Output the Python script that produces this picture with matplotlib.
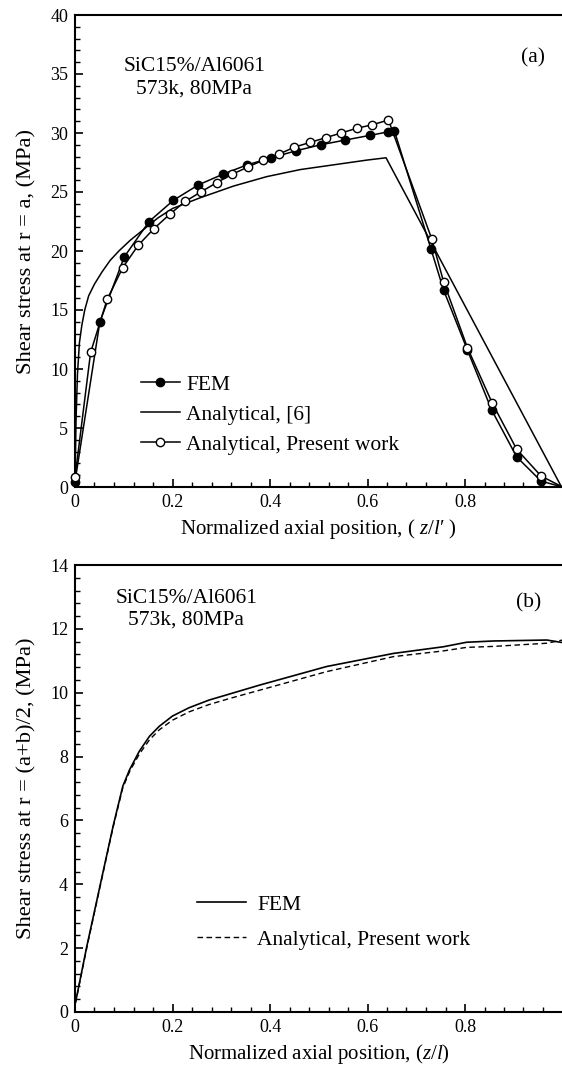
import matplotlib
matplotlib.use("Agg")
import matplotlib.pyplot as plt
from matplotlib.ticker import MultipleLocator

plt.rcParams['font.family'] = ['Liberation Serif', 'DejaVu Serif']
plt.rcParams['mathtext.fontset'] = 'custom'
plt.rcParams['mathtext.rm'] = 'Liberation Serif'
plt.rcParams['mathtext.it'] = 'Liberation Serif:italic'

# ---------------- Panel (a) data ----------------
fem_a_x = [0.0, 0.051, 0.101, 0.152, 0.202, 0.253, 0.303, 0.353, 0.403, 0.454, 0.504,
           0.554, 0.605, 0.643, 0.655, 0.730, 0.756, 0.805, 0.855, 0.906, 0.956, 1.0]
fem_a_y = [0.45, 14.0, 19.5, 22.5, 24.3, 25.6, 26.5, 27.3, 27.9, 28.5, 29.0,
           29.4, 29.8, 30.1, 30.2, 20.2, 16.7, 11.6, 6.5, 2.55, 0.5, 0.0]

ref6_x = [0.0, 0.002, 0.005, 0.009, 0.014, 0.020, 0.028, 0.040, 0.055, 0.072, 0.090,
          0.113, 0.140, 0.170, 0.200, 0.256, 0.325, 0.393, 0.462, 0.530, 0.598,
          0.638, 0.998]
ref6_y = [0.0, 5.5, 9.5, 12.2, 13.7, 15.0, 16.2, 17.2, 18.2, 19.2, 20.0,
          20.9, 21.8, 22.8, 23.6, 24.5, 25.5, 26.3, 26.9, 27.3, 27.7,
          27.9, 0.0]

pw_a_x = [0.0, 0.032, 0.066, 0.098, 0.130, 0.162, 0.194, 0.226, 0.258, 0.291, 0.322,
          0.354, 0.386, 0.418, 0.450, 0.482, 0.514, 0.546, 0.578, 0.610, 0.643,
          0.732, 0.756, 0.805, 0.856, 0.906, 0.956, 1.0]
pw_a_y = [0.82, 11.4, 15.9, 18.6, 20.5, 21.9, 23.1, 24.2, 25.0, 25.8, 26.5,
          27.1, 27.7, 28.2, 28.8, 29.2, 29.6, 30.0, 30.4, 30.7, 31.1,
          21.0, 17.4, 11.8, 7.1, 3.2, 0.93, 0.0]

# ---------------- Panel (b) data ----------------
b_x = [0.0, 0.002, 0.024, 0.051, 0.078, 0.098, 0.112, 0.132, 0.153, 0.173, 0.200,
       0.234, 0.275, 0.315, 0.379, 0.516, 0.653, 0.756, 0.803, 0.858, 0.968, 1.0]
fem_b_y = [0.25, 0.37, 2.04, 3.93, 5.81, 7.07, 7.59, 8.17, 8.64, 8.95, 9.27,
           9.53, 9.77, 9.95, 10.24, 10.82, 11.23, 11.44, 11.58, 11.62, 11.65, 11.57]
pw_b_y = [0.25, 0.35, 2.0, 3.9, 5.78, 7.02, 7.53, 8.08, 8.53, 8.84, 9.14,
          9.40, 9.63, 9.81, 10.08, 10.66, 11.13, 11.31, 11.42, 11.45, 11.55, 11.65]

x_ticks = [0, 0.2, 0.4, 0.6, 0.8]
x_ticklabels = ['0', '0.2', '0.4', '0.6', '0.8']

fig = plt.figure(figsize=(5.62, 10.68), dpi=100)
W, H = 562.0, 1068.0
ax_a = fig.add_axes([75 / W, 1 - 487 / H, 487.5 / W, 472 / H])
ax_b = fig.add_axes([75 / W, 1 - 1012 / H, 487.5 / W, 447 / H])

lw = 1.1
ax_a.plot(fem_a_x, fem_a_y, color='black', lw=lw, marker='o', ms=6,
          mfc='black', mec='black', markevery=list(range(len(fem_a_x) - 1)),
          clip_on=False, label='FEM', zorder=3)
ax_a.plot(ref6_x, ref6_y, color='black', lw=lw, clip_on=False,
          label='Analytical, [6]', zorder=2)
ax_a.plot(pw_a_x, pw_a_y, color='black', lw=lw, marker='o', ms=6,
          mfc='white', mec='black', mew=1.0, markevery=list(range(len(pw_a_x) - 1)),
          clip_on=False, label='Analytical, Present work', zorder=4)

ax_b.plot(b_x, fem_b_y, color='black', lw=1.2, label='FEM', clip_on=False)
ax_b.plot(b_x, pw_b_y, color='black', lw=1.0, linestyle=(0, (4, 2.5)),
          label='Analytical, Present work', clip_on=False)

for ax in (ax_a, ax_b):
    ax.set_xlim(0, 1)
    ax.set_xticks(x_ticks)
    ax.set_xticklabels(x_ticklabels)
    ax.xaxis.set_minor_locator(MultipleLocator(0.04))
    ax.spines['right'].set_visible(False)
    for s in ('left', 'bottom', 'top'):
        ax.spines[s].set_linewidth(1.5)
    ax.tick_params(which='both', direction='in', top=False, right=False,
                   labelsize=13)
    ax.tick_params(which='major', length=6, width=1.2, pad=5)
    ax.tick_params(which='minor', length=3.5, width=1.0)

ax_a.set_ylim(0, 40)
ax_a.yaxis.set_major_locator(MultipleLocator(5))
ax_a.yaxis.set_minor_locator(MultipleLocator(1))
ax_b.set_ylim(0, 14)
ax_b.yaxis.set_major_locator(MultipleLocator(2))
ax_b.yaxis.set_minor_locator(MultipleLocator(0.4))

ax_a.set_xlabel("Normalized axial position, ( $z/l$\u2032 )", fontsize=15, labelpad=4)
ax_b.set_xlabel(r"Normalized axial position, ($z/l$)", fontsize=15, labelpad=4)
ax_a.set_ylabel("Shear stress at r = a, (MPa)", fontsize=16.2, labelpad=10)
ax_b.set_ylabel("Shear stress at r = (a+b)/2, (MPa)", fontsize=16.2, labelpad=10)

ax_a.text(0.245, 0.867, "SiC15%/Al6061\n573k, 80MPa", transform=ax_a.transAxes,
          ha='center', va='center', fontsize=15.5, linespacing=1.2)
ax_a.text(0.94, 0.91, "(a)", transform=ax_a.transAxes, ha='center', va='center',
          fontsize=15.5)
ax_b.text(0.228, 0.901, "SiC15%/Al6061\n573k, 80MPa", transform=ax_b.transAxes,
          ha='center', va='center', fontsize=15.5, linespacing=1.2)
ax_b.text(0.93, 0.915, "(b)", transform=ax_b.transAxes, ha='center', va='center',
          fontsize=15.5)

ax_a.legend(loc='upper left', bbox_to_anchor=(0.135, 0.238), frameon=False,
            fontsize=15.5, handlelength=1.8, handletextpad=0.3, labelspacing=0.46,
            borderpad=0, borderaxespad=0)
ax_b.legend(loc='upper left', bbox_to_anchor=(0.25, 0.262), frameon=False,
            fontsize=15.5, handlelength=2.3, handletextpad=0.5, labelspacing=0.69,
            borderpad=0, borderaxespad=0)

fig.savefig("out.png", dpi=100)
